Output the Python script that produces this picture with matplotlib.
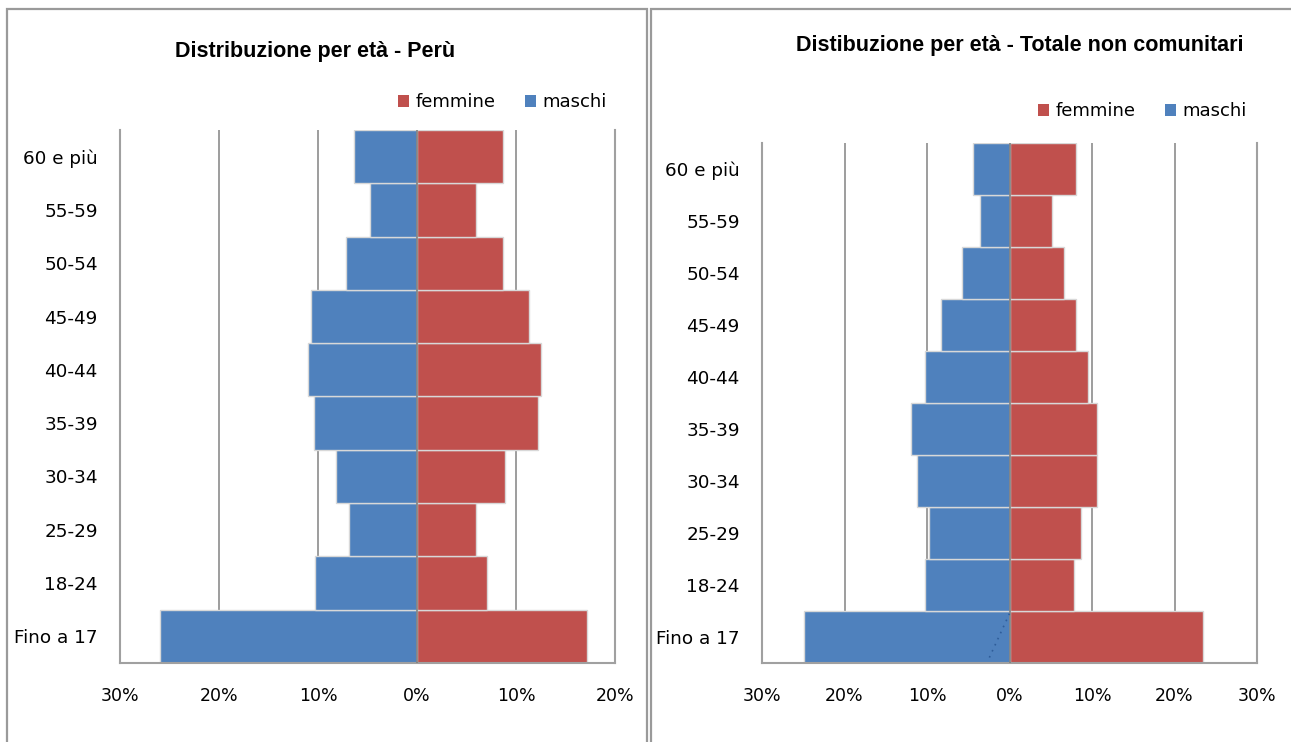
import matplotlib
matplotlib.use("Agg")
import matplotlib.pyplot as plt
from matplotlib.patches import Rectangle, Patch
from matplotlib.ticker import FuncFormatter
import numpy as np

categories = ["Fino a 17", "18-24", "25-29", "30-34", "35-39",
              "40-44", "45-49", "50-54", "55-59", "60 e più"]

peru_maschi = [26.0, 10.3, 6.9, 8.15, 10.45, 11.0, 10.7, 7.2, 4.75, 6.35]
peru_femmine = [17.2, 7.05, 6.0, 8.85, 12.2, 12.55, 11.3, 8.65, 6.0, 8.65]

tot_maschi = [24.9, 10.2, 9.75, 11.25, 11.9, 10.2, 8.3, 5.75, 3.55, 4.45]
tot_femmine = [23.4, 7.8, 8.65, 10.55, 10.55, 9.5, 8.0, 6.55, 5.2, 8.0]

title_left = "Distribuzione per età - Perù"
title_right = "Distibuzione per età - Totale non comunitari"
xticks_left = [-30, -20, -10, 0, 10, 20]
xticks_right = [-30, -20, -10, 0, 10, 20, 30]

BLUE = "#4F81BD"
RED = "#C0504D"
GRID = "#8c8c8c"
SPINE = "#a0a0a0"

W, H = 1291, 742
fig = plt.figure(figsize=(W / 100, H / 100), dpi=100)
fig.patch.set_facecolor("white")

title_font = ["Liberation Sans Narrow", "Liberation Sans", "DejaVu Sans"]


def fx(px):
    return px / W


def fy(py):
    return 1 - py / H


# panel borders
fig.add_artist(Rectangle((fx(7), fy(760)), fx(647) - fx(7), fy(9) - fy(760),
                         transform=fig.transFigure, fill=False,
                         edgecolor="#9a9a9a", linewidth=1.6))
fig.add_artist(Rectangle((fx(651), fy(760)), fx(1300) - fx(651), fy(9) - fy(760),
                         transform=fig.transFigure, fill=False,
                         edgecolor="#9a9a9a", linewidth=1.6))


def make_panel(rect, maschi, femmine, xlim, xticks, title, title_xy, leg_xy):
    ax = fig.add_axes(rect)
    y = np.arange(len(categories))
    m = -np.array(maschi)
    f = np.array(femmine)
    for g in xticks:
        ax.axvline(g, color=GRID, linewidth=1.2, zorder=1)
    ax.barh(y, m, height=1.0, color=BLUE, edgecolor="#d8d8d8",
            linewidth=1.0, zorder=2, label="maschi")
    ax.barh(y, f, height=1.0, color=RED, edgecolor="#d8d8d8",
            linewidth=1.0, zorder=2, label="femmine")
    ax.axvline(0, color="#808080", linewidth=1.2, zorder=3)
    ax.set_xlim(*xlim)
    ax.set_ylim(-0.5, len(categories) - 0.5)
    ax.set_xticks(xticks)
    ax.xaxis.set_major_formatter(FuncFormatter(lambda v, p: f"{abs(int(round(v)))}%"))
    ax.set_yticks(y)
    ax.set_yticklabels(categories)
    ax.tick_params(axis="both", length=0, colors="black")
    ax.tick_params(axis="x", pad=17, labelsize=12.5)
    ax.tick_params(axis="y", pad=16, labelsize=13.2)
    ax.spines["top"].set_visible(False)
    for s in ("left", "right", "bottom"):
        ax.spines[s].set_color(SPINE)
        ax.spines[s].set_linewidth(1.5)
    fig.text(title_xy[0], title_xy[1], title, ha="center", va="center",
             fontsize=15.5, fontweight="bold", family=title_font)
    handles = [Patch(facecolor=RED, edgecolor="none", label="femmine"),
               Patch(facecolor=BLUE, edgecolor="none", label="maschi")]
    ax.legend(handles=handles, loc="center right", bbox_to_anchor=leg_xy,
              bbox_transform=fig.transFigure, ncol=2, frameon=False,
              fontsize=13, handlelength=0.65, handleheight=0.65,
              handletextpad=0.35, columnspacing=1.6, borderpad=0,
              borderaxespad=0)
    return ax


axL = make_panel([fx(120), fy(663), fx(615) - fx(120), fy(130) - fy(663)],
                 peru_maschi, peru_femmine, (-30, 20), xticks_left,
                 title_left, (fx(315), fy(52)), (fx(607), fy(102)))

axR = make_panel([fx(762), fy(663), fx(1257) - fx(762), fy(143) - fy(663)],
                 tot_maschi, tot_femmine, (-30, 30), xticks_right,
                 title_right, (fx(1020), fy(46)), (fx(1247), fy(111)))

# small dotted artefact in the right chart's bottom bar
axR.plot([0, -2.6], [0.45, -0.45], linestyle=(0, (1, 3)), color="#2f5d9a",
         linewidth=1.2, zorder=4)

fig.savefig("out.png", dpi=100)
